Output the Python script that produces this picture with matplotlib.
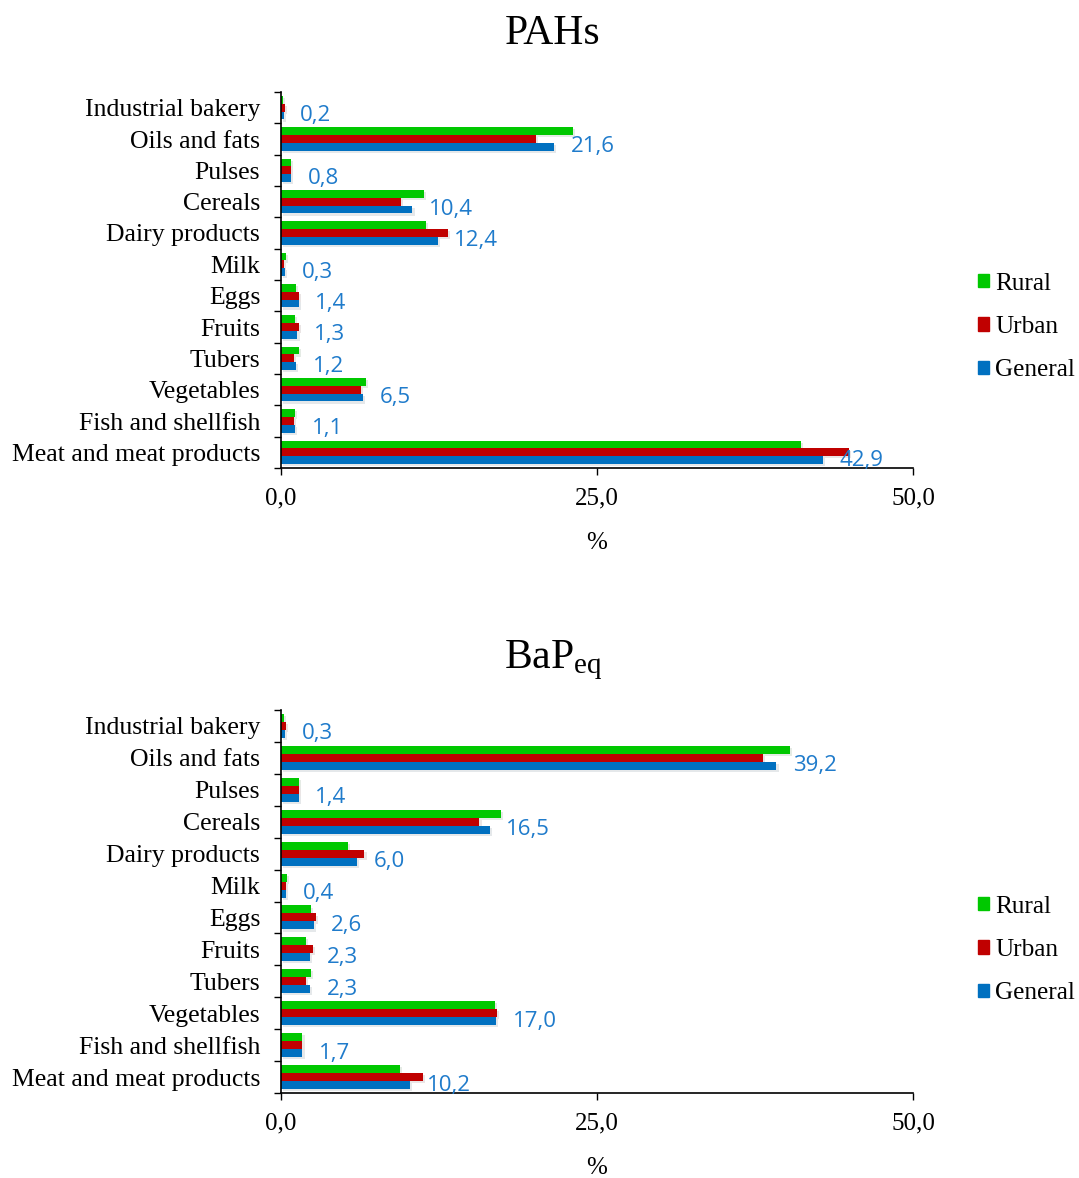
import matplotlib
matplotlib.use('Agg')
import matplotlib.pyplot as plt
import matplotlib.patheffects as pe
from matplotlib.patches import Patch
import numpy as np

categories = ['Meat and meat products', 'Fish and shellfish', 'Vegetables', 'Tubers',
              'Fruits', 'Eggs', 'Milk', 'Dairy products', 'Cereals', 'Pulses',
              'Oils and fats', 'Industrial bakery']

# PAHs (%), same order as categories (bottom to top)
pahs_rural = [41.1, 1.1, 6.7, 1.4, 1.1, 1.2, 0.4, 11.5, 11.3, 0.8, 23.1, 0.15]
pahs_urban = [44.9, 1.0, 6.35, 1.0, 1.4, 1.4, 0.25, 13.2, 9.5, 0.8, 20.2, 0.3]
pahs_general = [42.9, 1.1, 6.5, 1.2, 1.3, 1.4, 0.3, 12.4, 10.4, 0.8, 21.6, 0.2]

# BaPeq (%)
bap_rural = [9.4, 1.7, 16.9, 2.4, 2.0, 2.4, 0.5, 5.3, 17.4, 1.4, 40.3, 0.26]
bap_urban = [11.2, 1.7, 17.1, 2.0, 2.55, 2.8, 0.4, 6.6, 15.7, 1.4, 38.1, 0.4]
bap_general = [10.2, 1.7, 17.0, 2.3, 2.3, 2.6, 0.4, 6.0, 16.5, 1.4, 39.2, 0.3]

x_ticks = [0, 25, 50]
x_ticklabels = ['0,0', '25,0', '50,0']

green = '#00C800'
red = '#C00000'
blue = '#0070C0'
lbl_color = '#1F7BCB'
serif = 'Liberation Serif'

plt.rcParams['mathtext.fontset'] = 'custom'
plt.rcParams['mathtext.rm'] = serif
plt.rcParams['mathtext.it'] = serif

fig = plt.figure(figsize=(10.79, 11.78), dpi=100)
W, H = 1079, 1178


def draw(rect, rural, urban, general, title, title_y):
    ax = fig.add_axes(rect)
    y = np.arange(len(categories))
    h = 0.25
    shadow = [pe.SimplePatchShadow(offset=(1.5, -1.5), alpha=0.1), pe.Normal()]
    for vals, off, c in [(rural, h, green), (urban, 0, red), (general, -h, blue)]:
        bars = ax.barh(y + off, vals, height=h, color=c, linewidth=0)
        for b in bars:
            b.set_path_effects(shadow)
    for yi, v in zip(y, general):
        ax.annotate(f'{v:.1f}'.replace('.', ','), (v, yi - h),
                    xytext=(12, 0), textcoords='offset points',
                    va='center', ha='left', color=lbl_color,
                    fontsize=16, family='Open Sans')
    ax.set_xlim(0, 50)
    ax.set_ylim(-0.5, len(categories) - 0.5)
    ax.set_xticks(x_ticks)
    ax.set_xticklabels(x_ticklabels, family=serif, fontsize=18)
    ax.set_yticks(y)
    ax.set_yticklabels(categories, family=serif, fontsize=18.5)
    ax.tick_params(axis='y', length=0, pad=15)
    ax.set_yticks(np.arange(len(categories) + 1) - 0.5, minor=True)
    ax.tick_params(axis='y', which='minor', length=5, width=1)
    ax.tick_params(axis='x', length=5, width=1, pad=9)
    ax.set_xlabel('%', family=serif, fontsize=18, labelpad=16)
    for s in ['top', 'right']:
        ax.spines[s].set_visible(False)
    ax.spines['left'].set_linewidth(1.2)
    ax.spines['bottom'].set_linewidth(1.2)
    fig.text(553 / W, title_y, title, ha='center', va='center',
             family=serif, fontsize=30)
    handles = [Patch(color=green, label='Rural'), Patch(color=red, label='Urban'),
               Patch(color=blue, label='General')]
    return ax, handles


legend_kw = dict(loc='center left', bbox_transform=fig.transFigure, frameon=False,
                 borderpad=0, handlelength=0.45, handleheight=0.45, handletextpad=0.25,
                 labelspacing=0.85, prop={'family': serif, 'size': 18.2})

ax1, handles = draw([281 / W, 1 - 468 / H, 632 / W, 376 / H],
                    pahs_rural, pahs_urban, pahs_general, 'PAHs', 1 - 34 / H)
ax1.legend(handles=handles, bbox_to_anchor=(965 / W, 1 - 327 / H), **legend_kw)

ax2, handles = draw([281 / W, 1 - 1093 / H, 632 / W, 383 / H],
                    bap_rural, bap_urban, bap_general, r'BaP$_{\mathrm{eq}}$', 1 - 660 / H)
ax2.legend(handles=handles, bbox_to_anchor=(965 / W, 1 - 950 / H), **legend_kw)

fig.savefig('out.png', dpi=100)
